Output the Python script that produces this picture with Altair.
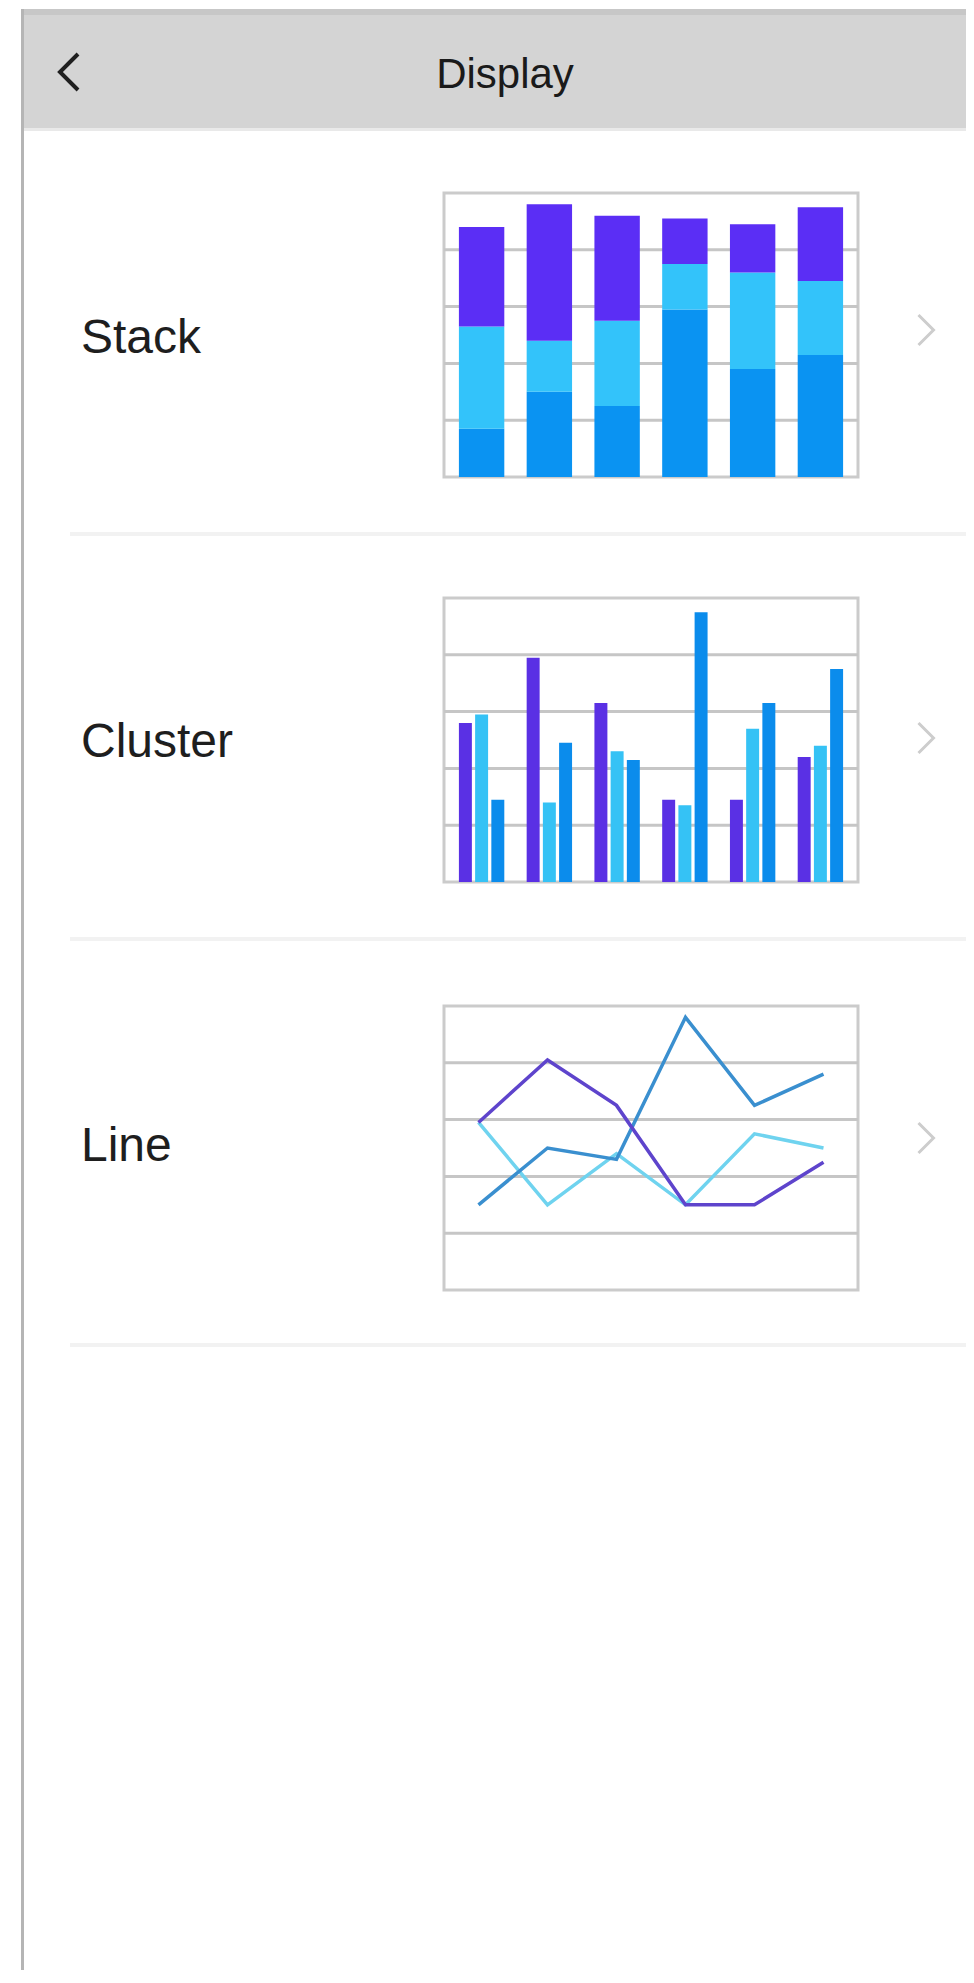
import altair as alt
import pandas as pd

# ---------------- data ----------------
categories = ["1", "2", "3", "4", "5", "6"]
series_names = ["Series 1", "Series 2", "Series 3"]          # blue, cyan, purple
series_colors = ["#0a93f2", "#33c3fa", "#5b2ef5"]
line_colors = ["#3a8fcf", "#6fd3ef", "#5e44cc"]

stack_blue = [17, 30, 25, 59, 38, 43]
stack_cyan = [36, 18, 30, 16, 34, 26]
stack_purple = [35, 48, 37, 16, 17, 26]

cluster_purple = [56, 79, 63, 29, 29, 44]
cluster_cyan = [59, 28, 46, 27, 54, 48]
cluster_blue = [29, 49, 43, 95, 63, 75]

line_purple = [59, 81, 65, 30, 30, 45]
line_blue = [30, 50, 46, 96, 65, 76]
line_cyan = [59, 30, 48, 30, 55, 50]

grid_values = [20, 40, 60, 80]
row_labels = ["Stack", "Cluster", "Line"]
title_text = "Display"

# ---------------- layout (pixels in plot space) ----------------
W, H = 958, 1962
THUMB_X = [436, 850]
THUMB_Y = [[469, 185], [874, 590], [1282, 998]]     # [bottom, top]
LABEL_BASE = [345, 749, 1153]
CHEVRON_Y = [322, 730, 1130]
SEPARATOR_Y = [526, 931, 1337]
FONT = "Liberation Sans"


def one(**kw):
    return alt.Chart(pd.DataFrame([kw if kw else {"k": 0}]))


def band_x():
    return alt.Scale(domain=categories, range=THUMB_X, paddingInner=0.33, paddingOuter=0.22)


def y_scale(i):
    return alt.Scale(domain=[0, 100], range=THUMB_Y[i], nice=False, zero=True)


def frame(i):
    xs = alt.Scale(domain=[0, 1], range=THUMB_X, nice=False)
    box = one(x0=0, x1=1, y0=0, y1=100).mark_rect(
        fill="white", stroke="#cbcbcb", strokeWidth=3
    ).encode(
        x=alt.X("x0:Q", scale=xs, axis=None), x2="x1:Q",
        y=alt.Y("y0:Q", scale=y_scale(i), axis=None), y2="y1:Q",
    )
    grid = alt.Chart(pd.DataFrame({"v": grid_values})).transform_calculate(
        x0="0", x1="1"
    ).mark_rule(color="#c6c6c6", strokeWidth=3).encode(
        x=alt.X("x0:Q", scale=xs, axis=None), x2="x1:Q",
        y=alt.Y("v:Q", scale=y_scale(i), axis=None),
    )
    return [box, grid]


def long_df(names, arrays):
    rows = []
    for o, (n, arr) in enumerate(zip(names, arrays)):
        for c, v in zip(categories, arr):
            rows.append({"cat": c, "series": n, "value": v, "ord": o})
    return pd.DataFrame(rows)


# stacked
stack_df = long_df(series_names, [stack_blue, stack_cyan, stack_purple])
stack = alt.Chart(stack_df).mark_bar().encode(
    x=alt.X("cat:N", scale=band_x(), axis=None),
    y=alt.Y("value:Q", stack="zero", scale=y_scale(0), axis=None),
    color=alt.Color("series:N", scale=alt.Scale(domain=series_names, range=series_colors), legend=None),
    order=alt.Order("ord:Q"),
)

# cluster
cl_names = ["Series 3", "Series 2", "Series 1"]
cluster_df = long_df(cl_names, [cluster_purple, cluster_cyan, cluster_blue])
cluster = alt.Chart(cluster_df).mark_bar().encode(
    x=alt.X("cat:N", scale=band_x(), axis=None),
    xOffset=alt.XOffset("series:N", scale=alt.Scale(domain=cl_names, paddingInner=0.2)),
    y=alt.Y("value:Q", stack=None, scale=y_scale(1), axis=None),
    color=alt.Color("series:N", scale=alt.Scale(domain=series_names, range=["#0b8cec", "#35c2f5", "#5a30e4"]), legend=None),
)

# line
line_df = long_df(["Series 2", "Series 1", "Series 3"], [line_cyan, line_blue, line_purple])
line = alt.Chart(line_df).mark_line(strokeWidth=3.5).encode(
    x=alt.X("cat:N", scale=band_x(), axis=None),
    y=alt.Y("value:Q", scale=y_scale(2), axis=None),
    color=alt.Color("series:N", scale=alt.Scale(domain=series_names, range=line_colors), legend=None),
    order=alt.Order("cat:N"),
)

# ---------------- UI chrome ----------------
layers = []
layers.append(one().mark_rect(color="#d4d4d4").encode(
    x=alt.value(14), x2=alt.value(W), y=alt.value(1), y2=alt.value(120)))
layers.append(one().mark_rule(color="#c7c7c7", strokeWidth=6).encode(
    x=alt.value(14), x2=alt.value(W), y=alt.value(4)))
layers.append(one().mark_rule(color="#e9e9e9", strokeWidth=3).encode(
    x=alt.value(14), x2=alt.value(W), y=alt.value(121.5)))
layers.append(one().mark_rule(color="#b5b5b5", strokeWidth=3).encode(
    x=alt.value(14.5), y=alt.value(1), y2=alt.value(H)))
layers.append(one().mark_point(
    shape="M0.5,-1L-0.5,0L0.5,1", filled=False, strokeWidth=4,
    color="#1f1f1f", size=1300, opacity=1).encode(x=alt.value(61), y=alt.value(64)))
layers.append(one(t=title_text).mark_text(
    fontSize=42, font=FONT, color="#1a1a1a", align="center", baseline="alphabetic"
).encode(text="t:N", x=alt.value(497), y=alt.value(80)))

for i, lab in enumerate(row_labels):
    layers.append(one(t=lab).mark_text(
        fontSize=48, font=FONT, color="#1e1e1e", align="left", baseline="alphabetic"
    ).encode(text="t:N", x=alt.value(73), y=alt.value(LABEL_BASE[i])))
    layers.append(one().mark_point(
        shape="M-0.5,-1L0.5,0L-0.5,1", filled=False, strokeWidth=3,
        color="#cdcdcd", size=900, opacity=1).encode(x=alt.value(918), y=alt.value(CHEVRON_Y[i])))
    layers.append(one().mark_rule(color="#f2f2f2", strokeWidth=4).encode(
        x=alt.value(62), x2=alt.value(W), y=alt.value(SEPARATOR_Y[i])))

layers += frame(0) + [stack] + frame(1) + [cluster] + frame(2) + [line]

chart = alt.layer(*layers).resolve_scale(
    x="independent", y="independent", color="independent"
).properties(
    width=W, height=H, padding=0, autosize=alt.AutoSizeParams(type="none")
).configure_view(stroke=None)

chart.save("out.html", embed_options={"renderer": "svg", "actions": False})
